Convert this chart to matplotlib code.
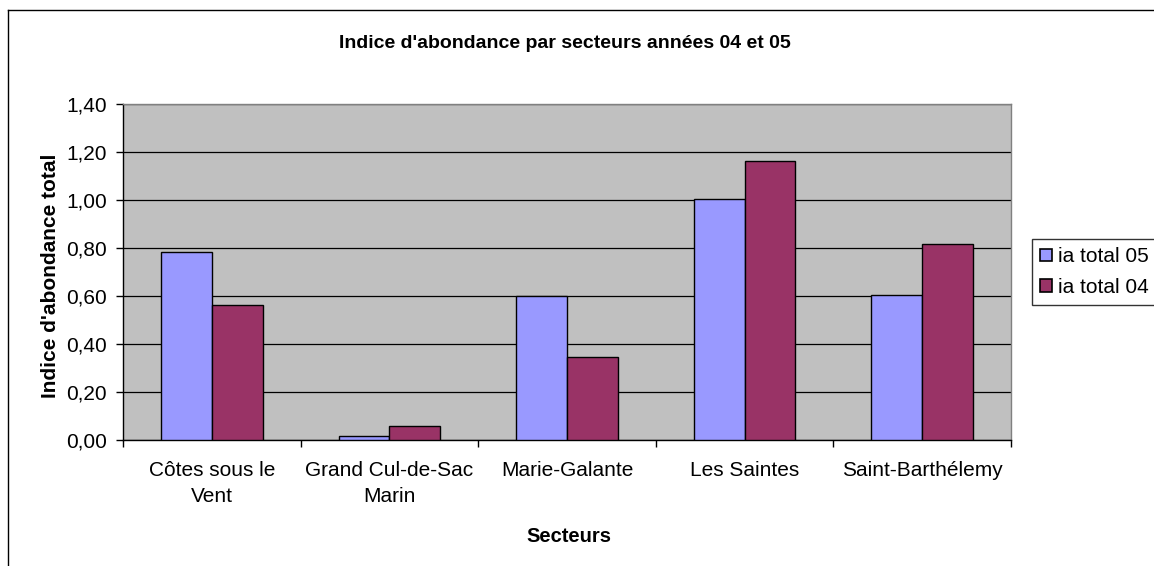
import matplotlib
matplotlib.use("Agg")
import matplotlib.pyplot as plt
import numpy as np
from matplotlib.lines import Line2D

plt.rcParams['font.family'] = ['Liberation Sans', 'DejaVu Sans']

categories = ["Côtes sous le\nVent", "Grand Cul-de-Sac\nMarin", "Marie-Galante",
              "Les Saintes", "Saint-Barthélemy"]
ia_total_05 = [0.785, 0.017, 0.598, 1.004, 0.604]
ia_total_04 = [0.564, 0.058, 0.344, 1.164, 0.817]
series_names = ["ia total 05", "ia total 04"]
y_ticks = [0.0, 0.2, 0.4, 0.6, 0.8, 1.0, 1.2, 1.4]
y_tick_labels = ["0,00", "0,20", "0,40", "0,60", "0,80", "1,00", "1,20", "1,40"]
title = "Indice d'abondance par secteurs années 04 et 05"
x_title = "Secteurs"
y_title = "Indice d'abondance total"

W, H = 1154, 566
fig = plt.figure(figsize=(W / 100, H / 100), dpi=100)
fig.patch.set_facecolor("white")

ax = fig.add_axes([123 / W, (H - 440) / H, (1011 - 123) / W, (440 - 104) / H])
ax.set_facecolor("#C0C0C0")

x = np.arange(len(categories))
bw = 0.2857
ax.bar(x - bw / 2, ia_total_05, width=bw, color="#9999FF", edgecolor="black",
       linewidth=1.0, label=series_names[0], zorder=3)
ax.bar(x + bw / 2, ia_total_04, width=bw, color="#993366", edgecolor="black",
       linewidth=1.0, label=series_names[1], zorder=3)

ax.set_xlim(-0.5, len(categories) - 0.5)
ax.set_ylim(0, 1.4)
ax.set_yticks(y_ticks)
ax.set_yticklabels(y_tick_labels, fontsize=15)
ax.yaxis.grid(True, color="black", linewidth=0.9, zorder=1)
ax.set_axisbelow(True)

ax.set_xticks(x)
ax.set_xticklabels(categories, fontsize=15, linespacing=1.5)
ax.set_xticks(np.arange(len(categories) + 1) - 0.5, minor=True)
ax.tick_params(axis="x", which="major", length=0, pad=15)
ax.tick_params(axis="x", which="minor", length=5, width=1, direction="out", color="black")
ax.tick_params(axis="y", length=5, width=1, direction="out", pad=6.5)

for s in ["top", "right"]:
    ax.spines[s].set_color("#808080")
    ax.spines[s].set_linewidth(1)
for s in ["left", "bottom"]:
    ax.spines[s].set_color("black")
    ax.spines[s].set_linewidth(1)

fig.text(565 / W, (H - 43) / H, title, fontsize=14, fontweight="bold",
         ha="center", va="center")
fig.text(569 / W, (H - 536) / H, x_title, fontsize=14.5, fontweight="bold",
         ha="center", va="center")
fig.text(51 / W, (H - 276) / H, y_title, fontsize=15, fontweight="bold",
         ha="center", va="center", rotation=90)

leg = fig.legend(loc="upper left", bbox_to_anchor=(1032 / W, (H - 239) / H),
                 fontsize=15, frameon=True, fancybox=False, edgecolor="black",
                 handlelength=0.55, handleheight=0.55, handletextpad=0.3,
                 borderpad=0.4, labelspacing=0.56, borderaxespad=0)
leg.get_frame().set_linewidth(1)
for h in leg.legend_handles:
    h.set_linewidth(1.2)

# outer chart frame (right and bottom edges fall outside the picture)
fig.add_artist(Line2D([8 / W, 8 / W], [0, (H - 10) / H], transform=fig.transFigure,
                      color="black", linewidth=1))
fig.add_artist(Line2D([8 / W, 1], [(H - 10) / H, (H - 10) / H], transform=fig.transFigure,
                      color="black", linewidth=1))

fig.savefig("out.png", dpi=100)
